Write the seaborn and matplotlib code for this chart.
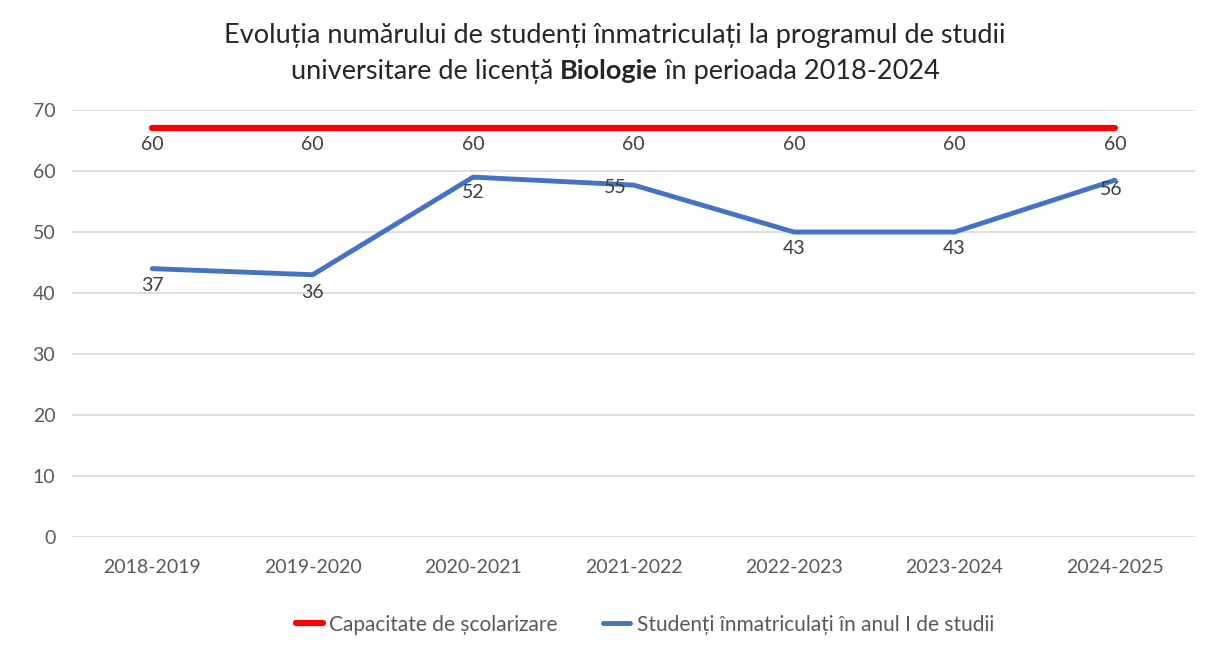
import numpy as np
import pandas as pd
import matplotlib
matplotlib.use("Agg")
import matplotlib.pyplot as plt
import seaborn as sns

# Data
years = ["2018-2019", "2019-2020", "2020-2021", "2021-2022",
         "2022-2023", "2023-2024", "2024-2025"]
capacity_y = [67, 67, 67, 67, 67, 67, 67]
capacity_labels = ["60", "60", "60", "60", "60", "60", "60"]
enrolled_y = [44, 43, 59, 57.7, 50, 50, 58.5]
enrolled_labels = ["37", "36", "52", "55", "43", "43", "56"]

cap_name = "Capacitate de școlarizare"
enr_name = "Studenți înmatriculați în anul I de studii"

# label offsets in pixels (styling, not data)
cap_offsets = [(0, -16)] * 7
enr_offsets = [(0, -17), (0, -18), (0, -15), (-18, -2), (0, -16), (0, -16), (-4, -9)]

sns.set_theme(style="white")
plt.rcParams["font.family"] = ["Lato", "DejaVu Sans"]

fig = plt.figure(figsize=(12.06, 6.51), dpi=100)
ax = fig.add_axes([0.0597, 0.175, 0.9313, 0.656])

df = pd.DataFrame({"year": years, "cap": capacity_y, "enr": enrolled_y})

sns.lineplot(data=df, x="year", y="cap", ax=ax, color="#ff0000",
             linewidth=4.5, label=cap_name, sort=False)
sns.lineplot(data=df, x="year", y="enr", ax=ax, color="#4472c4",
             linewidth=3.5, label=enr_name, sort=False)

ax.set_xlim(-0.5, 6.5)
ax.set_ylim(0, 70)
ax.set_yticks(range(0, 71, 10))
ax.set_xlabel("")
ax.set_ylabel("")
ax.grid(axis="y", color="#d9d9d9", linewidth=1.2)
ax.set_axisbelow(True)
for s in ax.spines.values():
    s.set_visible(False)
ax.tick_params(axis="both", length=0, labelsize=14, colors="#595959")
ax.tick_params(axis="y", pad=12)
ax.tick_params(axis="x", pad=16)

for i, (v, lab) in enumerate(zip(capacity_y, capacity_labels)):
    ax.annotate(lab, (i, v), xytext=cap_offsets[i], textcoords="offset pixels",
                ha="center", va="center", fontsize=14, color="#404040")
for i, (v, lab) in enumerate(zip(enrolled_y, enrolled_labels)):
    ax.annotate(lab, (i, v), xytext=enr_offsets[i], textcoords="offset pixels",
                ha="center", va="center", fontsize=14, color="#404040")

leg = ax.legend(loc="center", bbox_to_anchor=(0.51, -0.205), ncol=2, frameon=False,
                fontsize=15, handlelength=1.3, columnspacing=2.2, handletextpad=0.3)
for t in leg.get_texts():
    t.set_color("#595959")

# Title, second line has one bold word
tsize = 19.5
fig.text(0.51, 1 - 35 / 651, "Evoluția numărului de studenți înmatriculați la programul de studii",
         ha="center", va="center", fontsize=tsize, color="#262626")
parts = [("universitare de licență ", "normal"), ("Biologie", "bold"),
         (" în perioada 2018-2024", "normal")]
fig.canvas.draw()
r = fig.canvas.get_renderer()
objs = []
for txt, w in parts:
    objs.append(fig.text(0, 1 - 71 / 651, txt, ha="left", va="center",
                         fontsize=tsize, fontweight=w, color="#262626"))
widths = [o.get_window_extent(r).width for o in objs]
total = sum(widths)
x = 0.51 * fig.bbox.width - total / 2
for o, w in zip(objs, widths):
    o.set_x(x / fig.bbox.width)
    x += w

fig.savefig("out.png", dpi=100)
